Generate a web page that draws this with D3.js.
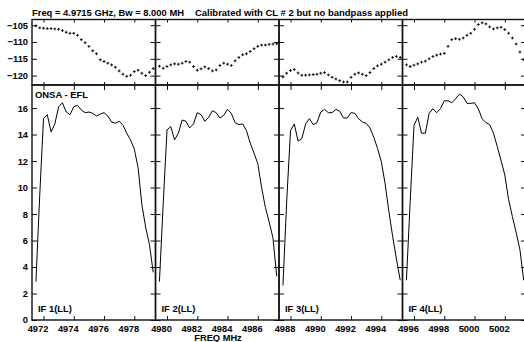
<!DOCTYPE html>
<html>
<head>
<meta charset="utf-8">
<script src="https://cdn.jsdelivr.net/npm/d3@7"></script>
<style>
  body { margin: 0; background: #fff; }
  svg { display: block; font-family: "Liberation Sans", Arial, sans-serif; font-weight: bold; }
</style>
</head>
<body>
<svg id="chart" width="524" height="342"></svg>
<script>
// one entry per IF
const ifNames = ['IF 1(LL)', 'IF 2(LL)', 'IF 3(LL)', 'IF 4(LL)'];
const ifStart = [4971.5, 4979.5, 4987.5, 4995.5];   // MHz, first channel
const chanWidth = 0.25;                              // MHz
const freqTicks = [
  [4972, 4974, 4976, 4978],
  [4980, 4982, 4984, 4986],
  [4988, 4990, 4992, 4994],
  [4996, 4998, 5000, 5002]
];
const phaseTicks = [-120, -115, -110, -105];
const ampTicks = [0, 2, 4, 6, 8, 10, 12, 14, 16];

// phase (degrees), 32 channels per IF
const phase1 = [-105.2, -105.8, -105.9, -106.0, -106.0, -106.1, -106.2, -106.6, -107.1, -107.4, -107.4, -108.0,
  -109.3, -110.2, -111.3, -112.6, -113.5, -115.3, -115.8, -116.3, -116.8, -117.5, -118.6, -119.6,
  -120.2, -119.9, -118.8, -118.4, -119.3, -120.0, -119.0, -117.9];
const phase2 = [-117.2, -117.8, -117.3, -116.8, -116.5, -116.6, -116.3, -115.8, -116.0, -117.3, -118.4, -118.0,
  -117.4, -117.9, -118.6, -118.3, -117.0, -116.3, -116.6, -117.0, -115.6, -114.6, -113.8, -113.5,
  -112.8, -112.0, -111.3, -110.9, -110.9, -110.7, -110.6, -110.5];
const phase3 = [-120.4, -119.3, -118.5, -118.2, -119.2, -119.9, -119.9, -119.8, -119.7, -119.6, -119.3, -119.1,
  -119.8, -120.5, -121.0, -121.5, -121.9, -121.9, -120.5, -119.6, -119.2, -119.6, -120.0, -119.1,
  -117.9, -117.1, -116.6, -116.0, -115.3, -114.6, -114.3, -114.6];
const phase4 = [-116.8, -117.3, -116.9, -116.5, -116.0, -115.7, -115.0, -114.3, -113.9, -113.6, -113.4, -111.3,
  -109.3, -109.0, -109.2, -108.8, -108.0, -107.4, -106.2, -104.8, -104.3, -104.6, -105.5, -106.1,
  -105.8, -105.6, -106.3, -107.4, -108.8, -110.6, -113.0, -115.3];

// amplitude, 32 channels per IF
const amp1 = [2.9, 9.4, 15.2, 15.5, 14.2, 14.8, 16.1, 16.4, 15.7, 15.5, 16.1, 16.2, 15.85, 15.65, 15.7, 15.6,
  15.4, 15.55, 15.65, 15.4, 14.95, 14.85, 15.0, 14.7, 14.1, 13.6, 12.9, 11.5, 8.7, 7.0, 5.7, 3.6];
const amp2 = [2.9, 8.8, 14.35, 14.6, 13.6, 14.1, 15.1, 15.0, 14.5, 14.8, 15.65, 15.5, 15.0, 15.3, 15.8, 15.65,
  15.25, 15.45, 15.9, 15.6, 14.9, 14.75, 14.8, 14.3, 13.35, 12.6, 11.8, 10.0, 8.5, 7.4, 6.2, 3.3];
const amp3 = [2.6, 9.0, 14.3, 14.8, 13.5, 13.7, 14.8, 15.2, 14.75, 14.9, 15.7, 15.9, 15.65, 15.65, 15.9, 15.75,
  15.25, 15.25, 15.65, 15.6, 15.2, 14.95, 14.85, 14.5, 13.8, 12.95, 11.95, 10.3, 8.2, 6.3, 4.6, 3.0];
const amp4 = [3.0, 9.0, 14.7, 15.3, 14.1, 14.1, 15.6, 15.95, 15.65, 15.95, 16.55, 16.55, 16.4, 16.7, 17.05, 16.85,
  16.35, 16.35, 16.4, 15.95, 15.2, 14.9, 14.75, 14.1, 13.1, 12.05, 10.95, 9.1, 7.8, 6.6, 5.3, 3.0];

const phases = [phase1, phase2, phase3, phase4];
const amps = [amp1, amp2, amp3, amp4];

const svg = d3.select('#chart');

const left = 32;
const panelW = 123.5;
const topY = 19.5;
const midY = 85;
const botY = 320;
const ink = '#111';

const phaseY = d3.scaleLinear().domain([-122.8, -103.3]).range([midY, topY]);
const ampY = d3.scaleLinear().domain([0, 17.74]).range([botY, midY]);

const cross = 'M-1.4,0H1.4M0,-1.4V1.4';

function styleAxis(g) {
  g.select('.domain').remove();
  g.selectAll('line').attr('stroke', ink).attr('stroke-width', 1);
  g.attr('font-family', null).attr('font-size', null);
  g.selectAll('text').attr('fill', '#000').style('font-size', '9.3px');
}

ifStart.forEach((f0, i) => {
  const x0 = left + i * panelW;
  const x = d3.scaleLinear().domain([f0 - 0.26, f0 + 7.9]).range([0, panelW]);
  const g = svg.append('g').attr('transform', `translate(${x0},0)`);
  const chans = phases[i].map((p, k) => ({ f: f0 + k * chanWidth, p: p, a: amps[i][k] }));

  // ---- phase panel ----
  g.append('g').attr('transform', `translate(0,${topY})`)
    .call(d3.axisTop(x).tickValues(freqTicks[i]).tickSize(-3).tickFormat(''))
    .call(styleAxis);
  g.append('g').attr('transform', `translate(0,${midY})`)
    .call(d3.axisBottom(x).tickValues(freqTicks[i]).tickSize(-3).tickFormat(''))
    .call(styleAxis);
  g.append('g')
    .call(d3.axisLeft(phaseY).tickValues(phaseTicks).tickSize(-5).tickPadding(4)
      .tickFormat(i === 0 ? d3.format('d') : ''))
    .call(styleAxis);
  g.append('g').attr('transform', `translate(${panelW},0)`)
    .call(d3.axisRight(phaseY).tickValues(phaseTicks).tickSize(-5).tickFormat(''))
    .call(styleAxis);

  g.selectAll('path.pt')
    .data(chans)
    .enter()
    .append('path')
    .attr('class', 'pt')
    .attr('transform', d => `translate(${x(d.f)},${phaseY(d.p)})`)
    .attr('d', cross)
    .attr('stroke', '#000')
    .attr('stroke-width', 0.9);

  // ---- amplitude panel ----
  g.append('g').attr('transform', `translate(0,${midY})`)
    .call(d3.axisTop(x).tickValues(freqTicks[i]).tickSize(-5).tickFormat(''))
    .call(styleAxis);
  const xb = g.append('g').attr('transform', `translate(0,${botY})`)
    .call(d3.axisBottom(x).tickValues(freqTicks[i]).tickSize(-4).tickPadding(5).tickFormat(d3.format('d')))
    .call(styleAxis);
  xb.selectAll('text').attr('dx', -6);
  g.append('g')
    .call(d3.axisLeft(ampY).tickValues(ampTicks).tickSize(-5).tickPadding(4)
      .tickFormat(i === 0 ? d3.format('d') : ''))
    .call(styleAxis);
  g.append('g').attr('transform', `translate(${panelW},0)`)
    .call(d3.axisRight(ampY).tickValues(ampTicks).tickSize(-5).tickFormat(''))
    .call(styleAxis);

  const line = d3.line().x(d => x(d.f)).y(d => ampY(d.a));
  g.append('path')
    .datum(chans)
    .attr('d', line)
    .attr('fill', 'none')
    .attr('stroke', '#000')
    .attr('stroke-width', 1);

  // frames
  g.append('rect').attr('x', 0).attr('y', topY).attr('width', panelW).attr('height', midY - topY)
    .attr('fill', 'none').attr('stroke', ink).attr('stroke-width', 1.4);
  g.append('rect').attr('x', 0).attr('y', midY).attr('width', panelW).attr('height', botY - midY)
    .attr('fill', 'none').attr('stroke', ink).attr('stroke-width', 1.4);

  g.append('text')
    .attr('x', 6).attr('y', 312)
    .style('font-size', '9.5px')
    .attr('textLength', 34).attr('lengthAdjust', 'spacingAndGlyphs')
    .text(ifNames[i]);
});

svg.append('text').attr('x', 32).attr('y', 16).style('font-size', '9.5px')
  .attr('textLength', 152).attr('lengthAdjust', 'spacingAndGlyphs')
  .text('Freq = 4.9715 GHz, Bw = 8.000 MH');
svg.append('text').attr('x', 195).attr('y', 16).style('font-size', '9.5px')
  .attr('textLength', 213).attr('lengthAdjust', 'spacingAndGlyphs')
  .text('Calibrated with CL # 2 but no bandpass applied');
svg.append('text').attr('x', 35).attr('y', 98).style('font-size', '9.6px')
  .attr('textLength', 53).attr('lengthAdjust', 'spacingAndGlyphs')
  .text('ONSA - EFL');
svg.append('text').attr('x', 218).attr('y', 340.5).attr('text-anchor', 'middle').style('font-size', '9.3px')
  .text('FREQ MHz');
</script>
</body>
</html>
